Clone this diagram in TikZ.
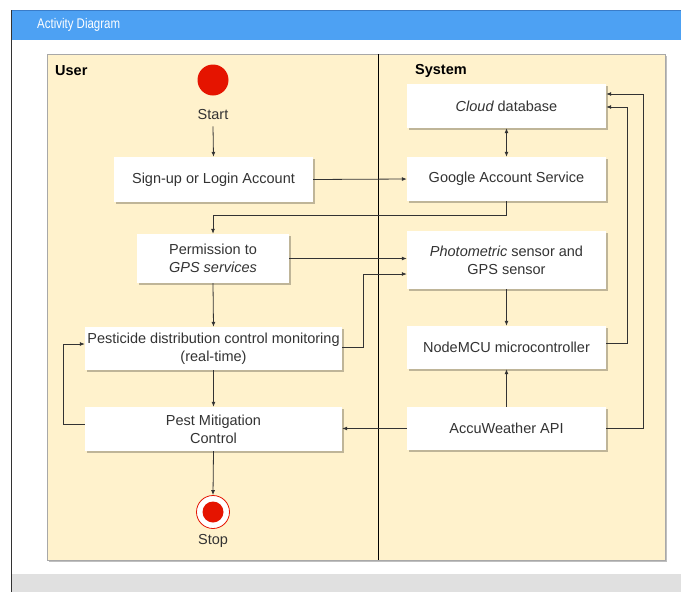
\documentclass[tikz,border=0pt]{standalone}
\usepackage{fontspec}
\setmainfont{Liberation Sans}
\newfontfamily\narrowfont[FakeStretch=0.82]{Liberation Sans}
\usetikzlibrary{arrows.meta,shadows,calc}
\definecolor{lanefill}{HTML}{FFF2CC}
\definecolor{poolline}{HTML}{A8A8A8}
\definecolor{hdrblue}{HTML}{4DA1F3}
\definecolor{hdrline}{HTML}{3A7CC8}
\definecolor{redfill}{HTML}{E51400}
\definecolor{edgecol}{HTML}{333333}
\definecolor{textcol}{HTML}{333333}
\definecolor{footgray}{HTML}{E0E0E0}
\begin{document}
\begin{tikzpicture}[x=1pt,y=-1pt,
  actbox/.style={draw=none, fill=white, align=center, inner sep=0pt,
    font=\fontsize{14.5}{18}\selectfont, text=textcol,
    drop shadow={shadow xshift=1.5pt, shadow yshift=-1.5pt, opacity=0.25, fill=black}},
  flow/.style={draw=edgecol, line width=0.8pt, -{Latex[length=5pt,width=4pt]}},
  lbl/.style={font=\fontsize{14.5}{18}\selectfont, text=textcol, inner sep=0pt},
  lanelbl/.style={font=\fontsize{14.5}{18}\selectfont\bfseries, text=black, inner sep=0pt, anchor=west}]
\useasboundingbox (0,0) rectangle (681,592);
% page frame
\fill[white] (0,0) rectangle (681,592);
\fill[footgray] (11,574) rectangle (681,592);
\fill[hdrblue] (11,10) rectangle (681,40);
\draw[hdrline, line width=0.8pt] (11,10.4) -- (681,10.4);
\draw[edgecol, line width=1pt] (11,10) -- (11,592);
\node[anchor=west, text=white, font=\fontsize{14}{16}\narrowfont, inner sep=0pt] (title) at (37,25) {Activity Diagram};
% pool
\fill[black!25] (49,56) rectangle (667,562);
\filldraw[fill=lanefill, draw=poolline, line width=1pt] (47,54) rectangle (665,560);
\draw[black, line width=1pt] (378,54) -- (378,560);
\node[lanelbl] (user) at (55,71) {User};
\node[lanelbl] (system) at (415,71) {System};
% start
\node[circle, fill=redfill, minimum size=31pt, inner sep=0pt] (start) at (213,80) {};
\node[lbl] (starttxt) at (213,115) {Start};
% activities
\node[actbox, minimum width=199pt, minimum height=45pt] (signup) at (213.5,179.5) {Sign-up or Login Account};
\node[actbox, minimum width=199pt, minimum height=44pt] (cloud) at (506.5,106) {\itshape Cloud\upshape{} database};
\node[actbox, minimum width=199pt, minimum height=44pt] (google) at (506.5,179) {Google Account Service};
\node[actbox, minimum width=152pt, minimum height=49pt] (perm) at (213,258.5) {Permission to\\\itshape GPS services};
\node[actbox, minimum width=199pt, minimum height=58pt] (photo) at (506.5,260) {\itshape Photometric\upshape{} sensor and\\GPS sensor};
\node[actbox, minimum width=257pt, minimum height=43pt] (pestmon) at (213.5,348.5) {Pesticide distribution control monitoring\\(real-time)};
\node[actbox, minimum width=199pt, minimum height=43pt] (mcu) at (506.5,347.5) {NodeMCU microcontroller};
\node[actbox, minimum width=257pt, minimum height=44pt] (pestmit) at (213.5,429) {Pest Mitigation\\Control};
\node[actbox, minimum width=199pt, minimum height=43pt] (accu) at (506.5,428.5) {AccuWeather API};
% stop
\node[circle, draw=redfill, fill=white, line width=0.8pt, minimum size=33pt, inner sep=0pt] (stop) at (213,512) {};
\node[circle, fill=redfill, minimum size=21pt, inner sep=0pt] (stopdot) at (stop.center) {};
\node[lbl] (stoptxt) at (213,541) {Stop};
% coordinates for bends
\coordinate (b1) at (213,215);
\coordinate (b2) at (363,274);
\coordinate (b3) at (627,107);
\coordinate (b4) at (643,94);
\coordinate (b5) at (63,424);
% connectors
\draw[flow] (starttxt.south) ++(0,6) -- (signup.north);
\draw[flow] (signup.east) -- (google.west);
\draw[flow, {Latex[length=5pt,width=4pt]}-{Latex[length=5pt,width=4pt]}] (cloud.south) -- (google.north);
\draw[flow] (google.south) |- (b1) -- (perm.north);
\draw[flow] (perm.east) -- (perm.east -| photo.west);
\draw[flow] ([yshift=1.5pt]pestmon.east) -| (b2) -- (b2 -| photo.west);
\draw[flow] (perm.south) -- (pestmon.north);
\draw[flow] (photo.south) -- (mcu.north);
\draw[flow] ([yshift=4.5pt]mcu.east) -| (b3) -- (b3 -| cloud.east);
\draw[flow] (accu.north) -- (mcu.south);
\draw[flow] (accu.east) -| (b4) -- (b4 -| cloud.east);
\draw[flow] (accu.west) -- (accu.west -| pestmit.east);
\draw[flow] (pestmon.south) -- (pestmit.north);
\draw[flow] ([yshift=5pt]pestmit.west) -| (b5) |- ([yshift=4.5pt]pestmon.west);
\draw[flow] (pestmit.south) -- (stop.north);
\end{tikzpicture}
\end{document}
